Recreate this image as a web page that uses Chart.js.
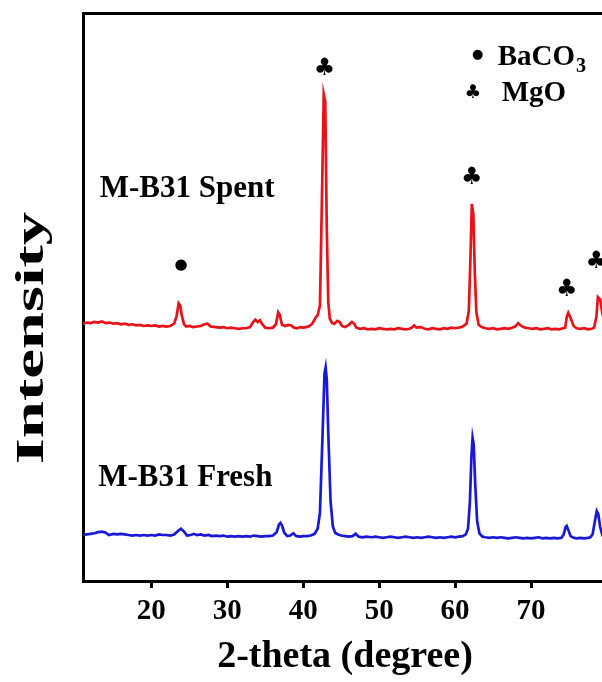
<!DOCTYPE html>
<html><head><meta charset="utf-8">
<script src="https://cdn.jsdelivr.net/npm/chart.js@4.4.1/dist/chart.umd.min.js"></script>
<style>
html,body{margin:0;padding:0;background:#fff;overflow:hidden}
#wrap{width:602px;height:682px;overflow:hidden;position:relative}
canvas{display:block}
</style></head>
<body><div id="wrap"><canvas id="c" width="620" height="682"></canvas></div>
<script>
// 2-theta positions and intensities (arbitrary units, Spent trace offset upward)
const spentX = [11.0,11.5,12.0,12.5,13.0,13.5,14.0,14.5,15.0,15.5,16.0,16.5,17.0,17.5,18.0,18.5,19.0,19.5,20.0,20.5,21.0,21.5,22.0,22.5,23.0,23.3,23.6,23.8,24.0,24.3,24.6,25.0,25.5,26.0,26.5,27.0,27.4,27.8,28.5,29.0,29.5,30.0,30.5,31.0,31.5,32.0,32.5,33.0,33.4,33.7,34.0,34.3,34.6,35.0,35.5,36.0,36.4,36.7,36.9,37.2,37.6,38.0,38.4,38.8,39.2,39.6,40.0,40.4,40.8,41.2,41.6,41.9,42.2,42.5,42.7,42.9,43.1,43.3,43.5,43.8,44.1,44.5,44.8,45.1,45.5,46.0,46.4,46.7,47.0,47.5,48.0,48.5,49.0,49.5,50.0,50.5,51.0,51.5,52.0,52.5,53.0,53.5,54.0,54.3,54.6,54.9,55.5,56.0,56.5,57.0,57.5,58.0,58.5,59.0,59.5,60.0,60.5,61.0,61.5,61.8,62.0,62.2,62.4,62.6,62.8,63.1,63.5,64.0,64.5,65.0,65.5,66.0,66.5,67.0,67.5,67.9,68.3,68.7,69.2,69.7,70.2,70.7,71.2,71.7,72.2,72.7,73.2,73.7,74.2,74.5,74.7,74.9,75.2,75.6,76.0,76.5,77.0,77.5,78.0,78.3,78.6,78.8,79.1,79.4,79.8,80.0];
const spentY = [45.3,45.5,45.4,45.6,45.5,45.7,45.4,45.5,45.3,45.4,45.2,45.3,45.1,45.2,45.0,45.1,44.9,45.0,44.9,45.0,44.8,44.9,44.8,44.9,45.3,46.5,48.9,48.5,46.8,45.2,44.8,44.9,44.7,44.8,44.9,45.2,45.3,44.8,44.7,44.6,44.7,44.5,44.6,44.5,44.4,44.5,44.5,44.7,45.6,46.0,45.6,45.9,45.2,44.6,44.5,44.6,45.2,47.3,46.9,45.1,44.9,45.1,45.0,44.6,44.5,44.7,44.6,44.7,44.9,45.3,46.3,46.8,48.5,70.0,85.7,84.4,62.0,49.0,46.2,45.4,45.3,45.8,45.6,44.9,44.7,45.1,45.6,45.3,44.6,44.4,44.5,44.3,44.4,44.3,44.5,44.4,44.3,44.4,44.3,44.5,44.4,44.3,44.4,44.6,45.0,44.6,44.7,44.4,44.3,44.5,44.4,44.3,44.5,44.4,44.6,44.5,44.6,44.8,45.3,47.5,56.0,66.4,64.5,54.0,47.3,45.1,44.7,44.5,44.4,44.5,44.3,44.4,44.5,44.4,44.6,44.8,45.4,44.9,44.6,44.5,44.4,44.5,44.3,44.4,44.5,44.3,44.4,44.3,44.5,44.6,46.5,47.2,46.3,44.9,44.5,44.4,44.5,44.3,44.4,44.6,46.5,50.0,49.6,47.0,45.3,44.8,44.7];
const freshX = [11.0,11.5,12.0,12.5,13.0,13.5,14.0,14.4,15.0,15.5,16.0,16.5,17.0,17.5,18.0,18.5,19.0,19.5,20.0,20.5,21.0,21.5,22.0,22.5,23.0,23.5,23.9,24.3,24.7,25.2,25.6,26.0,26.5,27.0,27.5,28.0,28.5,29.0,29.5,30.0,30.5,31.0,31.5,32.0,32.5,33.0,33.5,34.0,34.5,35.0,35.5,36.0,36.5,36.8,37.0,37.2,37.5,37.9,38.3,38.7,39.1,39.6,40.0,40.5,41.0,41.5,41.9,42.2,42.5,42.8,42.95,43.1,43.3,43.6,43.9,44.2,44.6,45.0,45.5,46.0,46.5,46.9,47.3,47.8,48.3,49.0,49.5,50.0,50.5,51.0,51.5,52.0,52.5,53.0,53.5,54.0,54.5,55.0,55.5,56.0,56.5,57.0,57.5,58.0,58.5,59.0,59.5,60.0,60.5,61.0,61.4,61.7,61.95,62.15,62.3,62.45,62.65,62.9,63.2,63.6,64.0,64.5,65.0,65.5,66.0,66.5,67.0,67.5,68.0,68.5,69.0,69.5,70.0,70.5,71.0,71.5,72.0,72.5,73.0,73.5,74.0,74.3,74.55,74.7,74.9,75.2,75.6,76.0,76.5,77.0,77.5,77.8,78.1,78.4,78.65,78.85,79.1,79.4,79.7,80.0];
const freshY = [8.1,8.2,8.3,8.4,8.6,8.7,8.5,8.1,8.3,8.2,8.3,8.2,8.1,8.0,8.1,8.0,8.1,8.0,8.1,8.0,8.2,8.1,8.1,8.0,8.2,8.8,9.2,8.7,8.0,8.1,8.3,8.1,8.2,8.0,8.1,7.9,8.0,7.9,8.0,7.8,7.9,7.8,7.9,7.8,7.9,7.8,8.0,7.9,7.8,7.9,7.9,8.0,8.6,9.9,10.2,9.8,8.5,7.9,8.0,8.4,7.9,7.8,7.9,7.9,8.0,8.3,9.2,12.0,24.0,36.5,37.6,35.5,26.0,14.0,9.6,8.5,8.2,8.0,7.9,7.8,7.9,8.3,7.8,7.7,7.8,7.7,7.8,7.7,7.6,7.7,7.8,7.7,7.6,7.7,7.8,7.7,7.6,7.7,7.6,7.7,7.8,7.7,7.6,7.7,7.6,7.7,7.8,7.7,7.8,7.9,8.2,9.2,14.0,22.0,25.2,24.0,17.0,10.5,8.4,7.8,7.7,7.6,7.7,7.6,7.7,7.6,7.5,7.6,7.7,7.6,7.5,7.6,7.5,7.6,7.7,7.5,7.6,7.5,7.6,7.5,7.6,8.2,9.5,9.7,9.0,7.9,7.6,7.5,7.6,7.5,7.6,7.7,8.2,10.5,12.3,11.8,9.5,8.0,7.7,7.6];
const xTickValues = [20,30,40,50,60,70];
const sampleLabels = ['M-B31 Spent','M-B31 Fresh'];
const sampleLabelX = [13.2,13.0];
const sampleLabelY = [67.6,16.8];
const markerSymbols = ['\u25CF','\u2663','\u2663','\u2663','\u2663'];
const markerX = [23.9,42.8,62.2,74.7,78.6];
const markerY = [55.7,90.1,71.0,51.2,56.2];
const legendSymbols = ['\u25CF','\u2663'];
const legendNames = ['BaCO','MgO'];
const legendSubs = ['3',''];

const serif = '"Liberation Serif","Times New Roman",serif';

const annotPlugin = {
  id: 'annot',
  afterDatasetsDraw(chart) {
    const {ctx, scales: {x, y}} = chart;
    ctx.save();
    ctx.fillStyle = '#000';
    // sample labels
    ctx.font = 'bold 31px ' + serif;
    ctx.textAlign = 'left';
    ctx.textBaseline = 'alphabetic';
    sampleLabels.forEach((t, i) => ctx.fillText(t, x.getPixelForValue(sampleLabelX[i]), y.getPixelForValue(sampleLabelY[i])));
    // peak markers
    ctx.textAlign = 'center';
    ctx.textBaseline = 'middle';
    markerSymbols.forEach((s, i) => {
      const px = x.getPixelForValue(markerX[i]), py = y.getPixelForValue(markerY[i]);
      if (s === '\u25CF') { ctx.font = '15px "DejaVu Sans"'; } else { ctx.font = '24px "DejaVu Sans"'; }
      ctx.fillText(s, px, py);
    });
    // legend (top right)
    const lx = [477.7, 472.7], ly = [55, 93], tx = [497.7, 501.7], tb = [65, 101];
    legendSymbols.forEach((s, i) => {
      ctx.textAlign = 'center'; ctx.textBaseline = 'middle';
      ctx.font = (s === '\u25CF' ? '13px' : '19px') + ' "DejaVu Sans"';
      ctx.fillText(s, lx[i], ly[i]);
      ctx.textAlign = 'left'; ctx.textBaseline = 'alphabetic';
      ctx.font = 'bold 29px ' + serif;
      ctx.fillText(legendNames[i], tx[i], tb[i]);
      if (legendSubs[i]) {
        const w = ctx.measureText(legendNames[i]).width;
        ctx.font = 'bold 20px ' + serif;
        ctx.fillText(legendSubs[i], tx[i] + w + 1, tb[i] + 7);
      }
    });
    // y-axis title (stretched like the original)
    ctx.translate(32.5, 338);
    ctx.rotate(-Math.PI / 2);
    ctx.scale(1.67, 1);
    ctx.font = 'bold 40px ' + serif;
    ctx.textAlign = 'center';
    ctx.textBaseline = 'middle';
    ctx.fillText('Intensity', 0, 0);
    ctx.restore();
  }
};

new Chart(document.getElementById('c'), {
  type: 'line',
  data: {
    datasets: [
      {label: 'M-B31 Spent', data: spentX.map((v, i) => ({x: v, y: spentY[i]})), borderColor: 'rgb(232,18,24)', borderWidth: 2.7, pointRadius: 0, tension: 0, fill: false},
      {label: 'M-B31 Fresh', data: freshX.map((v, i) => ({x: v, y: freshY[i]})), borderColor: 'rgb(24,24,214)', borderWidth: 2.7, pointRadius: 0, tension: 0, fill: false}
    ]
  },
  options: {
    responsive: false,
    animation: false,
    layout: {padding: {right: 13, left: 0, top: 0, bottom: 0}},
    plugins: {legend: {display: false}, tooltip: {enabled: false}, title: {display: false}},
    scales: {
      x: {
        type: 'linear', position: 'bottom', min: 11, max: 80,
        afterBuildTicks: s => { s.ticks = xTickValues.map(v => ({value: v})); },
        afterFit: s => { s.height = 101; },
        ticks: {color: '#000', font: {family: serif, size: 29, weight: 'bold'}, padding: 6, maxRotation: 0, autoSkip: false},
        grid: {display: true, drawOnChartArea: false, drawTicks: true, tickLength: 7, tickWidth: 3, tickColor: '#000'},
        border: {display: true, width: 3, color: '#000'},
        title: {display: true, text: '2-theta (degree)', color: '#000', font: {family: serif, size: 38, weight: 'bold'}, padding: {top: 0, bottom: 2}}
      },
      x2: {
        type: 'linear', position: 'top', min: 11, max: 80, display: true,
        afterFit: s => { s.height = 13; },
        ticks: {display: false},
        grid: {display: false, drawTicks: false},
        border: {display: true, width: 3, color: '#000'}
      },
      y: {
        type: 'linear', position: 'left', min: 0, max: 100,
        afterFit: s => { s.width = 83; },
        ticks: {display: false},
        grid: {display: false, drawTicks: false},
        border: {display: true, width: 3, color: '#000'}
      }
    }
  },
  plugins: [annotPlugin]
});
</script>
</body></html>
